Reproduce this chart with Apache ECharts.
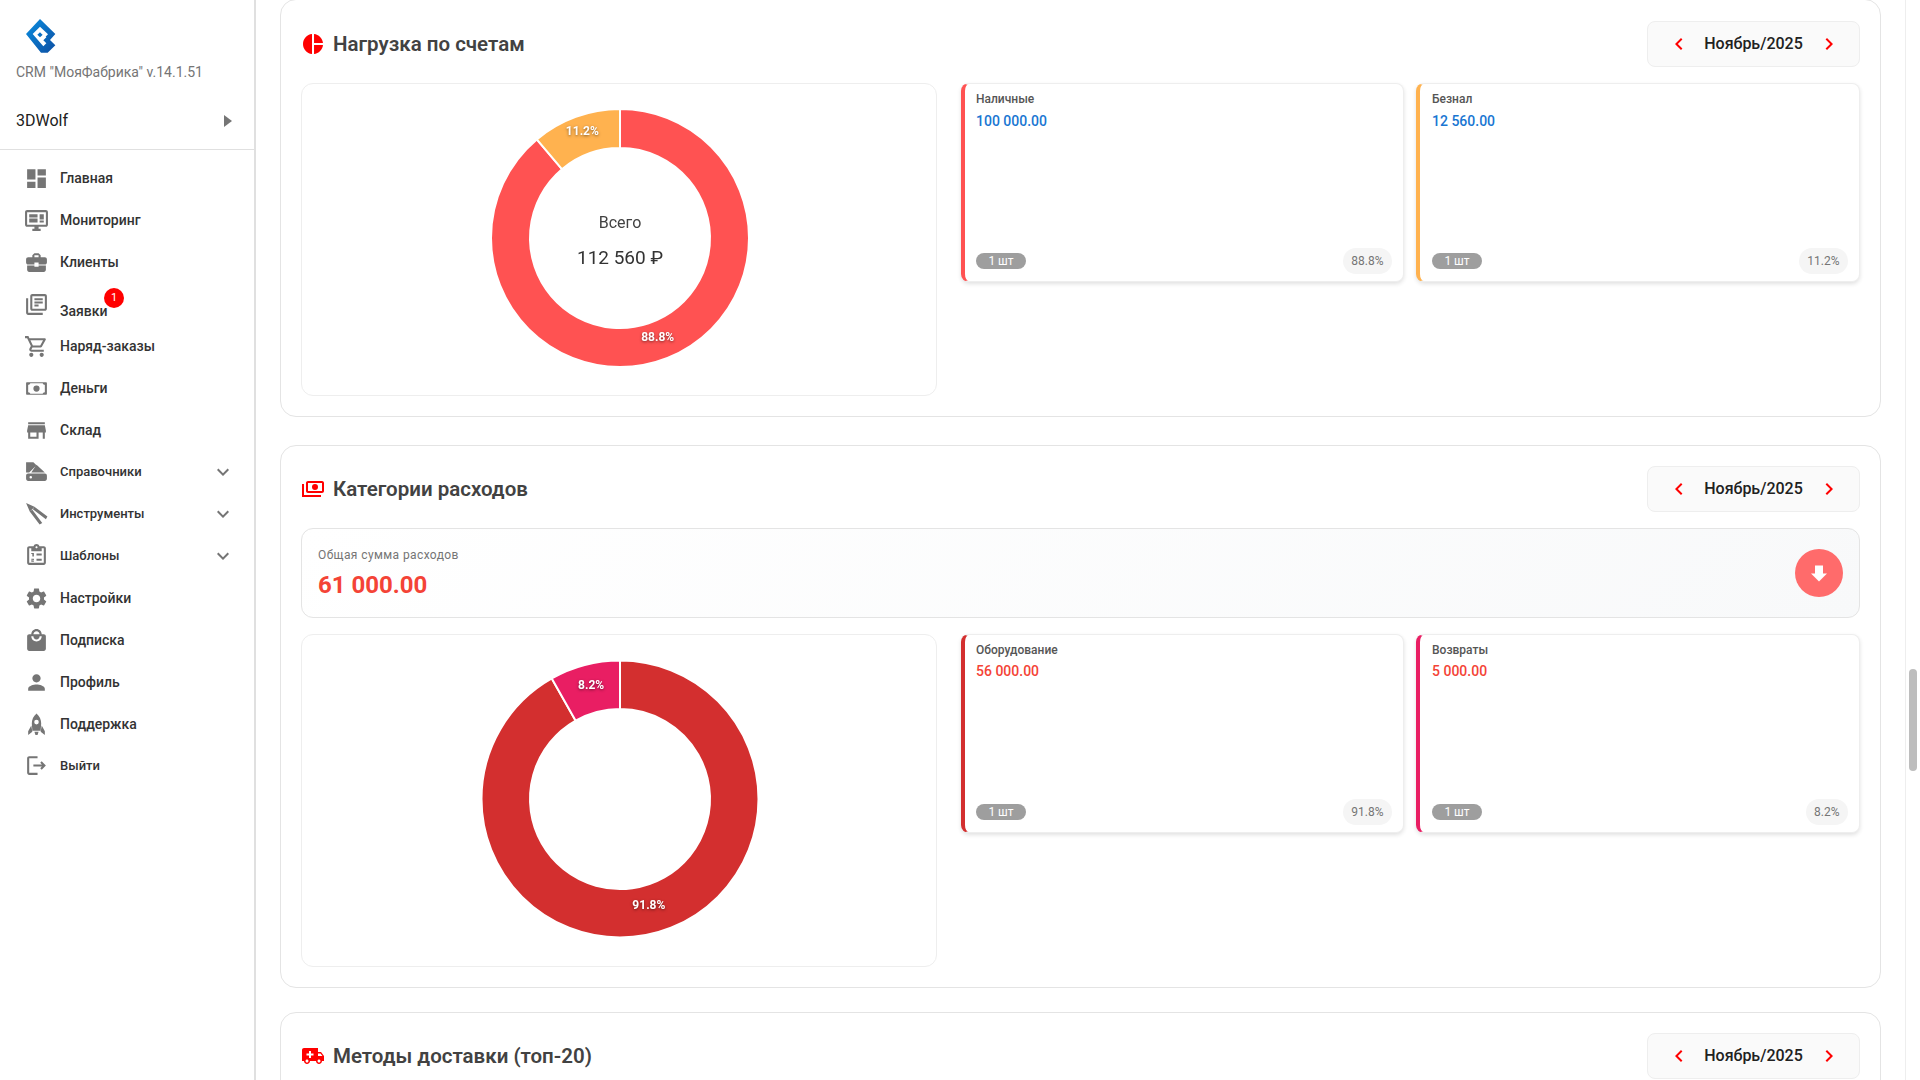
<!DOCTYPE html>
<html lang="ru">
<head>
<meta charset="utf-8">
<title>CRM МояФабрика</title>
<script src="https://cdn.jsdelivr.net/npm/echarts@6/dist/echarts.min.js"></script>
<style>
html,body{margin:0;padding:0;width:1920px;height:1080px;overflow:hidden;background:#fff;font-family:Roboto,sans-serif;}
.abs,.panel,.box,.card,.picker,.side-text,.ico{position:absolute;box-sizing:border-box;}
#sidebar{position:absolute;box-sizing:border-box;left:0;top:0;width:256px;height:1080px;border-right:2px solid #e0e0e0;background:#fff;}
.side-text{left:60px;font-size:14px;font-weight:500;color:#333;line-height:20px;white-space:nowrap;}
.ico{fill:#757575;}
.panel{left:280px;width:1601px;border:1.5px solid #e4e4e4;border-radius:16px;background:#fff;}
.head{position:absolute;left:333px;font-size:20.500px;font-weight:600;color:#424242;line-height:24px;white-space:nowrap;}
.box{border:1px solid #eee;border-radius:12px;background:#fff;}
.picker{left:1647px;width:213px;height:46px;background:#fafafa;border:1px solid #eee;border-radius:8px;}
.picker span{position:absolute;left:0;right:0;top:0;line-height:43px;text-align:center;font-size:16px;font-weight:500;color:#212121;}
.card{height:199px;background:#fff;border:1px solid #eee;border-left-width:4px;border-left-style:solid;border-radius:8px;box-shadow:0 2px 4px rgba(0,0,0,.12);}
.card .lbl{position:absolute;top:7px;font-size:12px;font-weight:500;color:#555;line-height:16px;}
.card .val{position:absolute;font-size:14px;font-weight:500;line-height:20px;}
.card .chip{position:absolute;bottom:12px;width:50px;height:16px;border-radius:8px;background:#9e9e9e;color:#fff;font-size:12px;line-height:16px;text-align:center;}
.card .pct{position:absolute;right:11px;bottom:7px;height:26px;padding:0 8.5px;border-radius:13px;background:#f5f5f5;color:#757575;font-size:12px;line-height:26px;}
#sumbox{left:301px;top:528px;width:1559px;height:90px;border:1.5px solid #e4e4e4;border-radius:12px;background:linear-gradient(135deg,#fff 0%,#f8f9fa 100%);}
#scroll{position:absolute;left:1905px;top:0;width:15px;height:1080px;border-left:1px solid #eee;background:#fff;}
#thumb{position:absolute;left:3px;top:669px;width:8px;height:102px;border-radius:4px;background:#bdbdbd;}
</style>
</head>
<body>
<div id="sidebar"></div>
<div id="main"></div>
<div id="scroll"><div id="thumb"></div></div>
<script>
var menuNames = ["Главная","Мониторинг","Клиенты","Заявки","Наряд-заказы","Деньги","Склад","Справочники","Инструменты","Шаблоны","Настройки","Подписка","Профиль","Поддержка","Выйти"];
var menuY = [178,220,262,311,346,388,430,471.5,513.5,555.5,598,640,682,724,765.5];
var menuIconY = [178,220,262,304,346,388,430,471.5,513.5,555.5,598,640,682,724,765.5];
var menuArrows = ["Справочники","Инструменты","Шаблоны"];
var menuSmall = ["Справочники","Инструменты","Шаблоны","Выйти"];

var accountNames = ["Наличные","Безнал"];
var accountValues = [100000,12560];
var accountLabels = ["100 000.00","12 560.00"];
var accountPercent = ["88.8%","11.2%"];
var accountColors = ["#ff5252","#ffb24f"];

var expenseNames = ["Оборудование","Возвраты"];
var expenseValues = [56000,5000];
var expenseLabels = ["56 000.00","5 000.00"];
var expensePercent = ["91.8%","8.2%"];
var expenseColors = ["#d32f2f","#e91e63"];

var monthText = "Ноябрь/2025";

// material icons, 24x24
var icons = {
  "Главная":"M3 13h8V3H3v10zm0 8h8v-6H3v6zm10 0h8V11h-8v10zm0-18v6h8V3h-8z",
  "Мониторинг":"M21 2H3c-1.1 0-2 .9-2 2v12c0 1.1.9 2 2 2h7v2H8v2h8v-2h-2v-2h7c1.1 0 2-.9 2-2V4c0-1.1-.9-2-2-2zm0 14H3V4h18v12zM5 6h8v3H5zm0 4h8v4H5zm10-4h4v5h-4zm0 6h4v2h-4z",
  "Клиенты":"M10 16v-1H3.01L3 19c0 1.11.89 2 2 2h14c1.11 0 2-.89 2-2v-4h-7v1h-4zm10-9h-4.01V5l-2-2h-4l-2 2v2H4c-1.1 0-2 .9-2 2v3c0 1.11.89 2 2 2h6v-2h4v2h6c1.1 0 2-.9 2-2V9c0-1.1-.9-2-2-2zm-6 0h-4V5h4v2z",
  "Заявки":"M4 6H2v14c0 1.1.9 2 2 2h14v-2H4V6zm16-4H8c-1.1 0-2 .9-2 2v12c0 1.1.9 2 2 2h12c1.1 0 2-.9 2-2V4c0-1.1-.9-2-2-2zm0 14H8V4h12v12zM10 9h8v2h-8zm0 3h4v2h-4zm0-6h8v2h-8z",
  "Наряд-заказы":"M15.55 13c.75 0 1.41-.41 1.75-1.03l3.58-6.49c.37-.66-.11-1.48-.87-1.48H5.21l-.94-2H1v2h2l3.6 7.59-1.35 2.44C4.52 15.37 5.48 17 7 17h12v-2H7l1.1-2h7.45zM6.16 6h12.15l-2.76 5H8.53L6.16 6zM7 18c-1.1 0-1.99.9-1.99 2S5.9 22 7 22s2-.9 2-2-.9-2-2-2zm10 0c-1.1 0-1.99.9-1.99 2s.89 2 1.99 2 2-.9 2-2-.9-2-2-2z",
  "Деньги":"M3 6h18c.6 0 1 .4 1 1v10c0 .6-.4 1-1 1H3c-.6 0-1-.4-1-1V7c0-.6.4-1 1-1zm1 2.5v7c1.2 0 2 .8 2 1.5h12c0-.7.8-1.5 2-1.5v-7c-1.2 0-2-.8-2-1.5H6c0 .7-.8 1.5-2 1.5zM12 9a3 3 0 1 1 0 6 3 3 0 0 1 0-6z",
  "Склад":"M20 4H4v2h16V4zm1 10v-2l-1-5H4l-1 5v2h1v6h10v-6h4v6h2v-6h1zm-9 4H6v-4h6v4z",
  "Справочники":"M2 3h7l3 3-7 7H2zM12 5.500l8 7.500H7zM4 14h16c1.1 0 2 .9 2 2v3c0 1.1-.9 2-2 2H4c-1.1 0-2-.9-2-2v-3c0-1.1.9-2 2-2zm2.500 2.300a1.200 1.200 0 1 0 0 2.400 1.200 1.200 0 0 0 0-2.400z",
  "Инструменты":"M10 5.500L22.500 15 21 17.500 8.500 8zM5.500 10L15 22.500 17.500 21 8 8.500zM2 2l8 3.500-2 2.500-2.500 2z",
  "Шаблоны":"M19 3h-4.180C14.400 1.840 13.300 1 12 1c-1.300 0-2.400.84-2.820 2H5c-1.100 0-2 .9-2 2v14c0 1.100.9 2 2 2h14c1.100 0 2-.9 2-2V5c0-1.100-.9-2-2-2zm-7 0c.55 0 1 .45 1 1s-.45 1-1 1-1-.45-1-1 .45-1 1-1zm7 16H5V5h2v3h10V5h2v14zM12 10h5v2h-5zm0 5h5v2h-5zM7 9.500h2.500v3.500H8v-2.500H7zm0 5.500h2.500v1.500H8.200v.5h1.300v1H7v-1.500h1.300v-.5H7z",
  "Настройки":"M19.14 12.940c.04-.3.06-.61.06-.94 0-.32-.02-.64-.07-.94l2.030-1.580c.18-.14.23-.41.12-.61l-1.920-3.320c-.12-.22-.37-.29-.59-.22l-2.390.96c-.5-.38-1.030-.7-1.620-.94l-.36-2.540c-.04-.24-.24-.41-.48-.41h-3.840c-.24 0-.43.17-.47.41l-.36 2.540c-.59.24-1.130.57-1.620.94l-2.390-.96c-.22-.08-.47 0-.59.22L2.740 8.870c-.12.21-.08.47.12.61l2.030 1.580c-.05.3-.09.63-.09.94s.02.64.07.94l-2.030 1.580c-.18.14-.23.41-.12.61l1.920 3.320c.12.22.37.29.59.22l2.390-.96c.5.38 1.030.7 1.620.94l.36 2.540c.05.24.24.41.48.41h3.840c.24 0 .44-.17.47-.41l.36-2.540c.59-.24 1.130-.56 1.620-.94l2.390.96c.22.08.47 0 .59-.22l1.920-3.320c.12-.22.07-.47-.12-.61l-2.010-1.580zM12 15.600c-1.980 0-3.600-1.620-3.600-3.600s1.620-3.600 3.600-3.600 3.600 1.620 3.600 3.600-1.620 3.600-3.600 3.600z",
  "Подписка":"M19 6h-2c0-2.760-2.240-5-5-5S7 3.240 7 6H5c-1.100 0-1.990.9-1.990 2L3 20c0 1.100.9 2 2 2h14c1.100 0 2-.9 2-2V8c0-1.100-.9-2-2-2zm-7-3c1.660 0 3 1.340 3 3H9c0-1.660 1.340-3 3-3zm0 10c-2.760 0-5-2.240-5-5h2c0 1.660 1.340 3 3 3s3-1.340 3-3h2c0 2.760-2.240 5-5 5z",
  "Профиль":"M12 12c2.210 0 4-1.790 4-4s-1.790-4-4-4-4 1.790-4 4 1.790 4 4 4zm0 2c-2.670 0-8 1.340-8 4v2h16v-2c0-2.660-5.330-4-8-4z",
  "Поддержка":"M12 1.500c-3 2.500-4.500 6-4.500 9.500l.5 7h8l.5-7c0-3.500-1.500-7-4.500-9.500zm0 6a2.200 2.200 0 1 1 0 4.400 2.200 2.200 0 0 1 0-4.400zM7 13l-3 5.500V22l4-3zm10 0l3 5.500V22l-4-3zM10 19h4l-1 3h-2z",
  "Выйти":"M5 3h8v2H5v14h8v2H5c-1.100 0-2-.9-2-2V5c0-1.100.9-2 2-2zM17 8l-1.400 1.400 1.600 1.600H9v2h8.200l-1.600 1.600L17 16l4-4z"
};
var chevronDown = "M16.590 8.590L12 13.170 7.410 8.590 6 10l6 6 6-6z";
var chevronLeft = "M15.410 7.410L14 6l-6 6 6 6 1.410-1.410L10.830 12z";
var chevronRight = "M10 6L8.590 7.410 13.170 12l-4.580 4.590L10 18l6-6z";
var arrowDown = "M8 4.500h8v8h4L12 20.500 4 12.500h4z";
var iconPie = "M11 2v20c-5.070-.5-9-4.790-9-10s3.930-9.500 9-10zm2.030 0v8.990H22c-.47-4.740-4.240-8.520-8.970-8.990zm0 11.010V22c4.740-.47 8.500-4.250 8.970-8.990h-8.970z";
var iconMoney = "M5 6c0-1.100.9-2 2-2h14c1.100 0 2 .9 2 2v8c0 1.100-.9 2-2 2H7c-1.100 0-2-.9-2-2zm2 0v8h14V6zm7 1a3 3 0 1 1 0 6 3 3 0 0 1 0-6zM1 7v13h19v-2H3V7z";
var iconTruck = "M20 8h-3V4H3c-1.100 0-2 .9-2 2v11h2c0 1.660 1.340 3 3 3s3-1.340 3-3h6c0 1.660 1.340 3 3 3s3-1.340 3-3h2v-5l-3-4zM6 18.500c-.83 0-1.500-.67-1.500-1.500s.67-1.500 1.500-1.500 1.500.67 1.500 1.500-.67 1.500-1.500 1.500zm13.500-9l1.960 2.500H17V9.500h2.500zm-1.500 9c-.83 0-1.500-.67-1.500-1.500s.67-1.500 1.500-1.500 1.500.67 1.500 1.500-.67 1.500-1.500 1.500zM8 7v2.500H5.500v2H8V14h2v-2.500h2.500v-2H10V7z";

function svg(path,x,y,size,color){
  return '<svg class="ico" style="left:'+x+'px;top:'+y+'px;fill:'+(color||'#757575')+'" width="'+size+'" height="'+size+'" viewBox="0 0 24 24"><path fill-rule="evenodd" d="'+path+'"/></svg>';
}
function text(str,x,y,css){
  return '<div class="abs" style="left:'+x+'px;top:'+y+'px;white-space:nowrap;'+css+'">'+str+'</div>';
}

// sidebar
var side = '';
side += '<svg class="abs" style="left:16px;top:10px" width="60" height="50" viewBox="0 0 180 150">'
  + '<defs><linearGradient id="lg" x1="0" y1="0" x2="1" y2="1"><stop offset="0" stop-color="#0a8ee0"/><stop offset="1" stop-color="#0d4fa3"/></linearGradient></defs>'
  + '<path fill="url(#lg)" d="M30 72L72 27l46 45-16 18 16 16-23 22H75z"/>'
  + '<path fill="#fff" d="M50 72l22-22 24 23-9 9-15-15-8 7 8 8 10-9 9 9-9 9 9 9-9 9z"/></svg>';
side += text('CRM "МояФабрика" v.14.1.51',16,63,'font-size:14px;color:#757575;line-height:18px;');
side += text('3DWolf',16,111,'font-size:16px;color:#212121;line-height:20px;');
side += '<svg class="abs" style="left:220.500px;top:113px" width="12" height="16" viewBox="0 0 12 16"><path fill="#757575" d="M3 2l8 6-8 6z"/></svg>';
side += '<div class="abs" style="left:0;top:149px;width:254px;height:1px;background:#e0e0e0"></div>';
for(let i=0;i<menuNames.length;i++){
  var small = menuSmall.indexOf(menuNames[i])>=0 ? 'font-size:13px;' : '';
  side += svg(icons[menuNames[i]],23.500,menuIconY[i]-12.500,25);
  side += '<div class="side-text" style="'+small+'top:'+(menuY[i]-10)+'px">'+menuNames[i]+'</div>';
  if(menuArrows.indexOf(menuNames[i])>=0){
    side += svg(chevronDown,211,menuY[i]-11.500,24);
  }
}
side += '<div class="abs" style="left:104px;top:288px;width:20px;height:20px;border-radius:10px;background:#f00;color:#fff;font-size:11px;line-height:20px;text-align:center">1</div>';
document.getElementById("sidebar").innerHTML = side;

// main area
function picker(top){
  return '<div class="picker" style="top:'+top+'px"><span>'+monthText+'</span>'
    + svg(chevronLeft,18.500,9.500,24,'#f00') + svg(chevronRight,168.500,9.500,24,'#f00') + '</div>';
}
function card(x,w,top,color,name,label,valueColor,pct,inset,valTop){
  return '<div class="card" style="left:'+x+'px;top:'+top+'px;width:'+w+'px;border-left-color:'+color+'">'
    + '<div class="lbl" style="left:'+inset+'px">'+name+'</div>'
    + '<div class="val" style="left:'+inset+'px;top:'+valTop+'px;color:'+valueColor+'">'+label+'</div>'
    + '<div class="chip" style="left:'+inset+'px">1 шт</div>'
    + '<div class="pct">'+pct+'</div></div>';
}
var m = '';
m += '<div class="panel" style="top:-1px;height:418px"></div>';
m += svg(iconPie,301,32,24,'#f00');
m += '<div class="head" style="top:32px">Нагрузка по счетам</div>';
m += picker(21);
m += '<div class="box" id="chart1" style="left:301px;top:83px;width:636px;height:313px"></div>';
m += card(961,443,83,accountColors[0],accountNames[0],accountLabels[0],'#1976d2',accountPercent[0],11,27);
m += card(1416,444,83,accountColors[1],accountNames[1],accountLabels[1],'#1976d2',accountPercent[1],12,27);

m += '<div class="panel" style="top:445px;height:543px"></div>';
m += svg(iconMoney,300.500,477,24,'#f00');
m += '<div class="head" style="top:477px">Категории расходов</div>';
m += picker(466);
m += '<div class="box" id="sumbox"></div>';
m += text('Общая сумма расходов',318,547,'font-size:12px;letter-spacing:.4px;color:#757575;line-height:16px;');
m += text('61 000.00',318,570,'font-size:24px;font-weight:700;color:#f44336;line-height:30px;');
m += '<div class="abs" style="left:1795px;top:549px;width:48px;height:48px;border-radius:24px;background:#ff6b6b"></div>';
m += svg(arrowDown,1807,560.500,24,'#fff');
m += '<div class="box" id="chart2" style="left:301px;top:634px;width:636px;height:333px"></div>';
m += card(961,443,634,expenseColors[0],expenseNames[0],expenseLabels[0],'#f44336',expensePercent[0],11,26);
m += card(1416,444,634,expenseColors[1],expenseNames[1],expenseLabels[1],'#f44336',expensePercent[1],12,26);

m += '<div class="panel" style="top:1012px;height:120px"></div>';
m += svg(iconTruck,301,1044,24,'#f00');
m += '<div class="head" style="top:1044px">Методы доставки (топ-20)</div>';
m += picker(1033);
document.getElementById("main").innerHTML = m;

function donut(dom,names,values,percent,colors,outer,centerY,graphic){
  var chart = echarts.init(dom);
  var offsets = [[-1,-6],[1,0]];
  var items = [];
  for(let i=0;i<names.length;i++){
    items.push({name:names[i],value:values[i],label:{formatter:percent[i],offset:offsets[i]}});
  }
  chart.setOption({
    animation:false,
    color:colors,
    graphic:graphic,
    series:[{
      type:'pie',
      radius:[90,outer],
      center:[318,centerY],
      startAngle:90,
      clockwise:true,
      itemStyle:{borderColor:'#fff',borderWidth:2},
      label:{
        position:'inside',
        color:'#fff',
        fontFamily:'Roboto',
        fontSize:12,
        fontWeight:700,
        textShadowColor:'rgba(0,0,0,.5)',
        textShadowBlur:3,
        textShadowOffsetY:1
      },
      labelLine:{show:false},
      data:items
    }]
  });
}
donut(document.getElementById("chart1"),accountNames,accountValues,accountPercent,accountColors,129,154,[
  {type:'text',x:318,y:131.500,style:{text:'Всего',textAlign:'center',fontFamily:'Roboto',fontSize:16,fill:'#424242'}},
  {type:'text',x:318,y:165.500,style:{text:'112 560 ₽',textAlign:'center',fontFamily:'Roboto',fontSize:19,fill:'#333'}}
]);
donut(document.getElementById("chart2"),expenseNames,expenseValues,expensePercent,expenseColors,138.500,164,[]);
</script>
</body>
</html>
